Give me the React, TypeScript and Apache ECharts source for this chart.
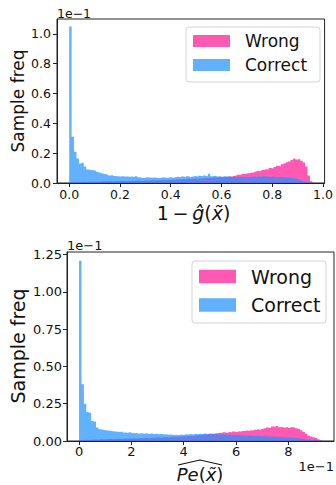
import React, { useEffect, useRef } from "react";
import * as echarts from "echarts";

// ---- Data (values shown in units of 1e-1) ----
const TOP_RANGE = 0.958; // histogram range of 1 - g(x)
const BOTTOM_RANGE = 9.28; // histogram range of Pe(x), in 1e-1

const topWrong = [
  0.004, 0.006, 0.005, 0.007, 0.006, 0.008, 0.007, 0.008, 0.009, 0.008,
  0.009, 0.01, 0.009, 0.011, 0.01, 0.012, 0.011, 0.01, 0.012, 0.013,
  0.012, 0.014, 0.013, 0.012, 0.015, 0.014, 0.013, 0.016, 0.015, 0.014,
  0.016, 0.017, 0.015, 0.018, 0.017, 0.019, 0.018, 0.02, 0.019, 0.021,
  0.02, 0.022, 0.021, 0.023, 0.025, 0.024, 0.026, 0.025, 0.028, 0.027,
  0.029, 0.03, 0.028, 0.032, 0.031, 0.034, 0.033, 0.036, 0.035, 0.038,
  0.037, 0.04, 0.039, 0.042, 0.041, 0.045, 0.044, 0.048, 0.05, 0.055,
  0.057, 0.062, 0.06, 0.066, 0.07, 0.068, 0.075, 0.08, 0.078, 0.088,
  0.092, 0.09, 0.1, 0.098, 0.108, 0.115, 0.112, 0.125, 0.13, 0.14,
  0.145, 0.155, 0.165, 0.158, 0.162, 0.15, 0.138, 0.11, 0.05, 0.012,
];
const topCorrect = [
  1.05, 0.31, 0.21, 0.165, 0.13, 0.135, 0.11, 0.09, 0.088, 0.085,
  0.082, 0.075, 0.07, 0.065, 0.06, 0.056, 0.05, 0.053, 0.047, 0.045,
  0.044, 0.046, 0.043, 0.044, 0.042, 0.043, 0.041, 0.046, 0.038, 0.036,
  0.034, 0.038, 0.037, 0.035, 0.037, 0.036, 0.033, 0.036, 0.038, 0.034,
  0.037, 0.039, 0.036, 0.04, 0.042, 0.038, 0.043, 0.04, 0.045, 0.041,
  0.044, 0.047, 0.043, 0.048, 0.045, 0.05, 0.046, 0.062, 0.045, 0.048,
  0.044, 0.046, 0.042, 0.045, 0.043, 0.046, 0.04, 0.044, 0.041, 0.038,
  0.042, 0.039, 0.043, 0.037, 0.04, 0.044, 0.041, 0.045, 0.042, 0.046,
  0.043, 0.045, 0.04, 0.043, 0.039, 0.041, 0.038, 0.04, 0.036, 0.037,
  0.035, 0.033, 0.03, 0.027, 0.022, 0.016, 0.01, 0.006, 0.003, 0.001,
];
const bottomWrong = [
  0.006, 0.007, 0.008, 0.007, 0.009, 0.008, 0.01, 0.009, 0.011, 0.01,
  0.012, 0.011, 0.013, 0.012, 0.014, 0.013, 0.015, 0.014, 0.016, 0.015,
  0.017, 0.016, 0.018, 0.017, 0.019, 0.018, 0.02, 0.021, 0.019, 0.022,
  0.021, 0.023, 0.024, 0.022, 0.025, 0.026, 0.024, 0.027, 0.028, 0.027,
  0.03, 0.029, 0.032, 0.031, 0.034, 0.033, 0.036, 0.035, 0.038, 0.04,
  0.042, 0.045, 0.043, 0.048, 0.05, 0.047, 0.052, 0.055, 0.053, 0.058,
  0.056, 0.06, 0.058, 0.063, 0.061, 0.065, 0.062, 0.067, 0.07, 0.068,
  0.072, 0.07, 0.075, 0.078, 0.074, 0.08, 0.085, 0.09, 0.088, 0.098,
  0.095, 0.1, 0.092, 0.096, 0.09, 0.094, 0.088, 0.093, 0.09, 0.085,
  0.08, 0.072, 0.06, 0.048, 0.035, 0.03, 0.025, 0.02, 0.012, 0.006,
];
const bottomCorrect = [
  1.21, 0.38, 0.25, 0.195, 0.19, 0.135, 0.13, 0.09, 0.078, 0.076,
  0.072, 0.07, 0.068, 0.066, 0.064, 0.062, 0.06, 0.063, 0.057, 0.055,
  0.058, 0.054, 0.052, 0.056, 0.05, 0.052, 0.049, 0.053, 0.048, 0.05,
  0.047, 0.049, 0.046, 0.048, 0.044, 0.046, 0.042, 0.044, 0.04, 0.042,
  0.039, 0.043, 0.041, 0.045, 0.043, 0.047, 0.044, 0.048, 0.046, 0.049,
  0.047, 0.05, 0.046, 0.048, 0.045, 0.047, 0.044, 0.046, 0.043, 0.045,
  0.042, 0.044, 0.04, 0.042, 0.038, 0.04, 0.037, 0.039, 0.035, 0.037,
  0.034, 0.036, 0.033, 0.035, 0.031, 0.033, 0.03, 0.032, 0.029, 0.03,
  0.028, 0.029, 0.026, 0.027, 0.024, 0.025, 0.022, 0.023, 0.02, 0.018,
  0.016, 0.014, 0.012, 0.01, 0.008, 0.006, 0.004, 0.003, 0.002, 0.001,
];

const topXTicks = [0.0, 0.2, 0.4, 0.6, 0.8, 1.0];
const topYTicks = [0.0, 0.2, 0.4, 0.6, 0.8, 1.0];
const bottomXTicks = [0, 2, 4, 6, 8];
const bottomYTicks = [0.0, 0.25, 0.5, 0.75, 1.0, 1.25];
const seriesNames = ["Wrong", "Correct"];

const PINK = "rgb(255,20,147)";
const BLUE = "rgb(30,144,255)";
const FONT = '"DejaVu Sans", Verdana, sans-serif';
const AX = "#222";

function toSteps(values: number[], range: number) {
  const w = range / values.length;
  const pts: number[][] = values.map((v, i) => [i * w, v]);
  pts.push([range, 0]);
  return pts;
}

function histSeries(name: string, color: string, values: number[], range: number, idx: number) {
  return {
    name,
    type: "line",
    xAxisIndex: idx,
    yAxisIndex: idx,
    step: "end",
    symbol: "none",
    showSymbol: false,
    silent: true,
    data: toSteps(values, range),
    itemStyle: { color },
    lineStyle: { width: 0, opacity: 0 },
    areaStyle: { color, opacity: 0.7 },
  };
}

function axisCfg(idx: number, min: number, max: number, ticks: number[], fs: number, fmt: (v: number) => string, margin: number) {
  return {
    type: "value",
    gridIndex: idx,
    min,
    max,
    axisLine: { show: true, onZero: false, lineStyle: { color: AX, width: 1 } },
    axisTick: { show: true, inside: false, length: 4, customValues: ticks, lineStyle: { color: AX, width: 1 } },
    axisLabel: { show: true, customValues: ticks, formatter: fmt, fontFamily: FONT, fontSize: fs, color: "#111", margin },
    splitLine: { show: false },
  };
}

function legend(x: number, y: number, w: number, h: number, sw: number, swH: number, swX: number, rows: number[], textX: number, fs: number) {
  const els: any[] = [
    {
      type: "rect",
      shape: { x, y, width: w, height: h, r: 3 },
      style: { fill: "rgba(255,255,255,0.8)", stroke: "#d4d4d4", lineWidth: 1 },
      z: 100,
    },
  ];
  const cols = [PINK, BLUE];
  rows.forEach((cy, i) => {
    els.push({
      type: "rect",
      shape: { x: swX, y: cy - swH / 2, width: sw, height: swH },
      style: { fill: cols[i], opacity: 0.7 },
      z: 101,
    });
    els.push({
      type: "text",
      x: textX,
      y: cy,
      style: { text: seriesNames[i], font: `${fs}px ${FONT}`, fill: "#111", textAlign: "left", textVerticalAlign: "middle" },
      z: 101,
    });
  });
  return els;
}

export default function App() {
  const ref = useRef<HTMLDivElement>(null);
  useEffect(() => {
    document.body.style.margin = "0";
    if (!ref.current) return;
    const chart = echarts.init(ref.current, null, { renderer: "svg" });
    const option: any = {
      animation: false,
      backgroundColor: "#fff",
      grid: [
        { left: 57, top: 19, width: 273, height: 164, show: true, borderColor: AX, borderWidth: 1, containLabel: false },
        { left: 67, top: 252, width: 267, height: 189, show: true, borderColor: AX, borderWidth: 1, containLabel: false },
      ],
      xAxis: [
        axisCfg(0, -0.048, 1.006, topXTicks, 12.5, (v: number) => v.toFixed(1), 5),
        axisCfg(1, -0.46, 9.74, bottomXTicks, 13, (v: number) => v.toFixed(0), 4),
      ],
      yAxis: [
        axisCfg(0, 0, 1.1, topYTicks, 12.5, (v: number) => v.toFixed(1), 6),
        axisCfg(1, 0, 1.268, bottomYTicks, 13, (v: number) => v.toFixed(2), 5),
      ],
      series: [
        histSeries(seriesNames[0], PINK, topWrong, TOP_RANGE, 0),
        histSeries(seriesNames[1], BLUE, topCorrect, TOP_RANGE, 0),
        histSeries(seriesNames[0], PINK, bottomWrong, BOTTOM_RANGE, 1),
        histSeries(seriesNames[1], BLUE, bottomCorrect, BOTTOM_RANGE, 1),
      ],
      graphic: [
        // y-axis labels
        { type: "text", x: 18, y: 101, rotation: Math.PI / 2, style: { text: "Sample freq", font: `17px ${FONT}`, fill: "#111", textAlign: "center", textVerticalAlign: "middle" } },
        { type: "text", x: 18, y: 346, rotation: Math.PI / 2, style: { text: "Sample freq", font: `19px ${FONT}`, fill: "#111", textAlign: "center", textVerticalAlign: "middle" } },
        // offset texts
        { type: "text", x: 57, y: 13, style: { text: "1e\u22121", font: `12.5px ${FONT}`, fill: "#111", textAlign: "left", textVerticalAlign: "middle" } },
        { type: "text", x: 67, y: 245, style: { text: "1e\u22121", font: `13px ${FONT}`, fill: "#111", textAlign: "left", textVerticalAlign: "middle" } },
        { type: "text", x: 334, y: 466, style: { text: "1e\u22121", font: `13px ${FONT}`, fill: "#111", textAlign: "right", textVerticalAlign: "middle" } },
        // x-axis labels
        {
          type: "text",
          x: 193.5,
          y: 213,
          style: {
            text: "{n|1\u2009\u2212\u2009}{i|\u011d}{n|(}{i|x\u0303}{n|)}",
            font: `19px ${FONT}`,
            fill: "#111",
            textAlign: "center",
            textVerticalAlign: "middle",
            rich: {
              n: { fontFamily: FONT, fontSize: 19, fill: "#111" },
              i: { fontFamily: FONT, fontSize: 19, fontStyle: "italic", fill: "#111" },
            },
          },
        },
        {
          type: "text",
          x: 200,
          y: 474.5,
          style: {
            text: "{i|Pe}{n|(}{i|x\u0303}{n|)}",
            font: `18px ${FONT}`,
            fill: "#111",
            textAlign: "center",
            textVerticalAlign: "middle",
            rich: {
              n: { fontFamily: FONT, fontSize: 18, fill: "#111" },
              i: { fontFamily: FONT, fontSize: 18, fontStyle: "italic", fill: "#111" },
            },
          },
        },
        {
          type: "polyline",
          shape: { points: [[178, 465], [200, 460], [222, 465]] },
          style: { stroke: "#111", lineWidth: 1.2, fill: "none" },
        },
        ...legend(186, 27, 134, 55, 37, 12, 193, [41, 65], 245, 17),
        ...legend(192, 261, 134, 62, 37, 13.5, 199, [276.5, 305], 251, 19),
      ],
    };
    chart.setOption(option);
    return () => chart.dispose();
  }, []);
  return <div ref={ref} style={{ width: 336, height: 485 }} />;
}
